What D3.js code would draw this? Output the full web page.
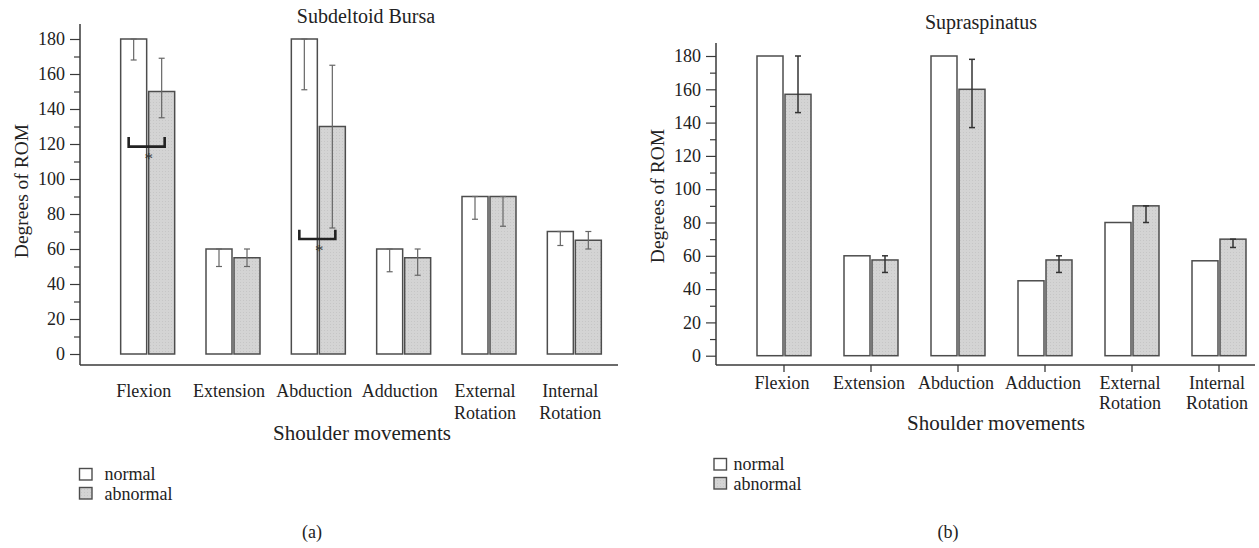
<!DOCTYPE html>
<html>
<head>
<meta charset="utf-8">
<script src="https://cdn.jsdelivr.net/npm/d3@7"></script>
<style>
  html, body { margin: 0; padding: 0; background: #fff; }
  svg { display: block; }
  svg text { font-family: "Liberation Serif", "DejaVu Serif", serif; }
</style>
</head>
<body>
<svg id="chart" width="1259" height="548"></svg>
<script>
// ---------------- data ----------------
const categories = ["Flexion", "Extension", "Abduction", "Adduction", "External Rotation", "Internal Rotation"];
const categoryLabelLines = [["Flexion"], ["Extension"], ["Abduction"], ["Adduction"], ["External", "Rotation"], ["Internal", "Rotation"]];
const seriesNames = ["normal", "abnormal"];
const yTicks = [0, 20, 40, 60, 80, 100, 120, 140, 160, 180];
const yMinorTicks = [10, 30, 50, 70, 90, 110, 130, 150, 170];

// (a) Subdeltoid Bursa
const bursaNormal = [180, 60, 180, 60, 90, 70];
const bursaAbnormal = [150, 55, 130, 55, 90, 65];
const bursaNormalErrLow = [168, 50, 151, 47, 77, 62];
const bursaNormalErrHigh = [180, 60, 180, 60, 90, 70];
const bursaAbnormalErrLow = [135, 50, 72, 45, 73, 60];
const bursaAbnormalErrHigh = [169, 60, 165, 60, 90, 70];
const bursaSignifCategories = ["Flexion", "Abduction"];
const bursaSignifLevel = [118.5, 65.7];
const bursaSignifTop = [124, 71];

// (b) Supraspinatus
const supraNormal = [180, 60, 180, 45, 80, 57];
const supraAbnormal = [157, 57.5, 160, 57.5, 90, 70];
const supraAbnormalErrLow = [146, 50, 137, 50, 80, 65];
const supraAbnormalErrHigh = [180, 60, 178, 60, 90, 70];

// ---------------- drawing ----------------
const FONT = "Liberation Serif, DejaVu Serif, serif";
const svg = d3.select("#chart");
const AXIS = "#3a3a3a";
const BAR_STROKE = "#4d4d4d";
const ABN_FILL = "#d4d4d4";
const TXT = "#222";

const defs = svg.append("defs");
const pat = defs.append("pattern").attr("id", "abn").attr("patternUnits", "userSpaceOnUse")
  .attr("width", 3).attr("height", 3);
pat.append("rect").attr("width", 3).attr("height", 3).attr("fill", ABN_FILL);
pat.append("rect").attr("width", 1).attr("height", 1).attr("fill", "#c6c6c6");

function drawPanel(cfg) {
  const g = svg.append("g").attr("font-family", FONT);
  const y = d3.scaleLinear().domain([0, 180]).range([cfg.y0, cfg.y180]);
  const x = d3.scaleBand().domain(categories).range(cfg.barRange).padding(0);
  const bw = 26, gap = 2;
  const cx = c => x(c) + x.bandwidth() / 2;

  // title
  g.append("text").attr("x", cfg.titleX).attr("y", cfg.titleY).attr("font-family", FONT)
    .attr("text-anchor", "middle").attr("font-size", 20).attr("fill", TXT).text(cfg.title);

  // y axis
  const yAxis = d3.axisLeft(y).tickValues(yTicks).tickSize(10).tickPadding(5);
  const ya = g.append("g").attr("transform", `translate(${cfg.axisX},0)`).call(yAxis)
    .attr("font-family", FONT).attr("font-size", 18);
  ya.select(".domain").remove();
  ya.selectAll(".tick line").attr("stroke", AXIS).attr("stroke-width", 1.2);
  ya.selectAll(".tick text").attr("fill", TXT).attr("font-family", FONT).attr("font-size", 18);
  const yMinor = d3.axisLeft(y).tickValues(yMinorTicks).tickSize(6).tickFormat("");
  const ym = g.append("g").attr("transform", `translate(${cfg.axisX},0)`).call(yMinor);
  ym.select(".domain").remove();
  ym.selectAll(".tick line").attr("stroke", AXIS).attr("stroke-width", 1.2);

  // axis lines
  g.append("line").attr("x1", cfg.axisX).attr("x2", cfg.axisX).attr("y1", cfg.axisTop).attr("y2", cfg.axisBottom)
    .attr("stroke", AXIS).attr("stroke-width", 1.5);
  g.append("line").attr("x1", cfg.axisX).attr("x2", cfg.axisRight).attr("y1", cfg.axisBottom).attr("y2", cfg.axisBottom)
    .attr("stroke", AXIS).attr("stroke-width", 1.5);

  if (cfg.xTicks) {
    const xAxis = d3.axisBottom(x).tickSize(7).tickFormat("");
    const xa = g.append("g").attr("transform", `translate(0,${cfg.axisBottom})`).call(xAxis);
    xa.select(".domain").remove();
    xa.selectAll(".tick line").attr("stroke", AXIS).attr("stroke-width", 1.3);
  }

  // y title
  g.append("text").attr("transform", `translate(${cfg.yTitleX},${cfg.yTitleY}) rotate(-90)`).attr("font-family", FONT)
    .attr("text-anchor", "middle").attr("font-size", 19.5).attr("fill", TXT).text("Degrees of ROM");

  // category labels
  const lab = g.append("g");
  categories.forEach((c, i) => {
    const lx = cx(c) + cfg.labelDx;
    const t = lab.append("text").attr("x", lx).attr("y", cfg.labelY).attr("font-family", FONT)
      .attr("text-anchor", "middle").attr("font-size", 18).attr("fill", TXT);
    categoryLabelLines[i].forEach((ln, j) => {
      t.append("tspan").attr("x", lx).attr("dy", j === 0 ? 0 : cfg.labelLineH).text(ln);
    });
  });
  g.append("text").attr("x", cfg.xTitleX).attr("y", cfg.xTitleY).attr("text-anchor", "middle").attr("font-family", FONT)
    .attr("font-size", 21).attr("fill", TXT).text("Shoulder movements");

  // bars
  const bars = g.append("g");
  bars.selectAll("rect.n").data(categories).join("rect").attr("class", "n")
    .attr("x", c => cx(c) - gap / 2 - bw).attr("width", bw)
    .attr("y", (c, i) => y(cfg.normal[i])).attr("height", (c, i) => y(0) - y(cfg.normal[i]))
    .attr("fill", "#fff").attr("stroke", BAR_STROKE).attr("stroke-width", 1.5);
  bars.selectAll("rect.a").data(categories).join("rect").attr("class", "a")
    .attr("x", c => cx(c) + gap / 2).attr("width", bw)
    .attr("y", (c, i) => y(cfg.abnormal[i])).attr("height", (c, i) => y(0) - y(cfg.abnormal[i]))
    .attr("fill", "url(#abn)").attr("stroke", BAR_STROKE).attr("stroke-width", 1.5);

  // error bars
  function errBars(lows, highs, xc, color, sw) {
    const eg = g.append("g").attr("stroke", color).attr("stroke-width", sw);
    categories.forEach((c, i) => {
      const xm = xc(c);
      eg.append("line").attr("x1", xm).attr("x2", xm).attr("y1", y(lows[i])).attr("y2", y(highs[i]));
      eg.append("line").attr("x1", xm - 3).attr("x2", xm + 3).attr("y1", y(lows[i])).attr("y2", y(lows[i]));
      eg.append("line").attr("x1", xm - 3).attr("x2", xm + 3).attr("y1", y(highs[i])).attr("y2", y(highs[i]));
    });
  }
  if (cfg.normalErrLow) errBars(cfg.normalErrLow, cfg.normalErrHigh, c => cx(c) - gap / 2 - bw / 2, cfg.errColor, cfg.errWidth);
  if (cfg.abnormalErrLow) errBars(cfg.abnormalErrLow, cfg.abnormalErrHigh, c => cx(c) + gap / 2 + bw / 2, cfg.errColor, cfg.errWidth);

  // significance brackets
  if (cfg.signifCats) {
    cfg.signifCats.forEach((c, i) => {
      const x1 = cx(c) - gap / 2 - bw / 2 - 5, x2 = cx(c) + gap / 2 + bw / 2 + 3;
      const yl = y(cfg.signifLevel[i]), yt = y(cfg.signifTop[i]);
      g.append("path").attr("d", `M${x1},${yt}V${yl}H${x2}V${yt}`)
        .attr("fill", "none").attr("stroke", "#222").attr("stroke-width", 2.6);
      g.append("text").attr("x", cx(c) + 1).attr("y", yl + 17).attr("text-anchor", "middle").attr("font-family", FONT)
        .attr("font-size", 17).attr("fill", "#333").text("*");
    });
  }

  // legend
  const lg = g.append("g");
  seriesNames.forEach((s, i) => {
    lg.append("rect").attr("x", cfg.legendX).attr("y", cfg.legendY + i * 19).attr("width", 12.5).attr("height", 11.5)
      .attr("fill", i === 0 ? "#fff" : "url(#abn)").attr("stroke", BAR_STROKE).attr("stroke-width", 1.4);
    lg.append("text").attr("x", cfg.legendX + cfg.legendTextDx).attr("y", cfg.legendY + 11 + i * 20).attr("font-family", FONT)
      .attr("font-size", 18).attr("fill", TXT).text(s);
  });

  // panel label
  g.append("text").attr("x", cfg.panelX).attr("y", 538).attr("text-anchor", "middle").attr("font-family", FONT)
    .attr("font-size", 18).attr("fill", TXT).text(cfg.panelLabel);
}

drawPanel({
  title: "Subdeltoid Bursa", titleX: 366, titleY: 23,
  y0: 354, y180: 39, axisX: 80, axisTop: 24, axisBottom: 365, axisRight: 618,
  barRange: [105, 617], labelDx: -4, labelY: 397, labelLineH: 22,
  xTitleX: 362, xTitleY: 440, yTitleX: 28, yTitleY: 191, xTicks: false,
  normal: bursaNormal, abnormal: bursaAbnormal,
  normalErrLow: bursaNormalErrLow, normalErrHigh: bursaNormalErrHigh,
  abnormalErrLow: bursaAbnormalErrLow, abnormalErrHigh: bursaAbnormalErrHigh,
  errColor: "#666", errWidth: 1.2,
  signifCats: bursaSignifCategories, signifLevel: bursaSignifLevel, signifTop: bursaSignifTop,
  legendX: 79.5, legendY: 468.5, legendTextDx: 25, panelX: 312, panelLabel: "(a)"
});

drawPanel({
  title: "Supraspinatus", titleX: 981, titleY: 29,
  y0: 355.7, y180: 56, axisX: 716, axisTop: 43, axisBottom: 365, axisRight: 1255,
  barRange: [740.5, 1262.5], labelDx: -2, labelY: 389, labelLineH: 20,
  xTitleX: 996, xTitleY: 430, yTitleX: 664, yTitleY: 196, xTicks: true,
  normal: supraNormal, abnormal: supraAbnormal,
  abnormalErrLow: supraAbnormalErrLow, abnormalErrHigh: supraAbnormalErrHigh,
  errColor: "#333", errWidth: 1.5,
  legendX: 714, legendY: 458.5, legendTextDx: 19.5, panelX: 948, panelLabel: "(b)"
});
</script>
</body>
</html>
